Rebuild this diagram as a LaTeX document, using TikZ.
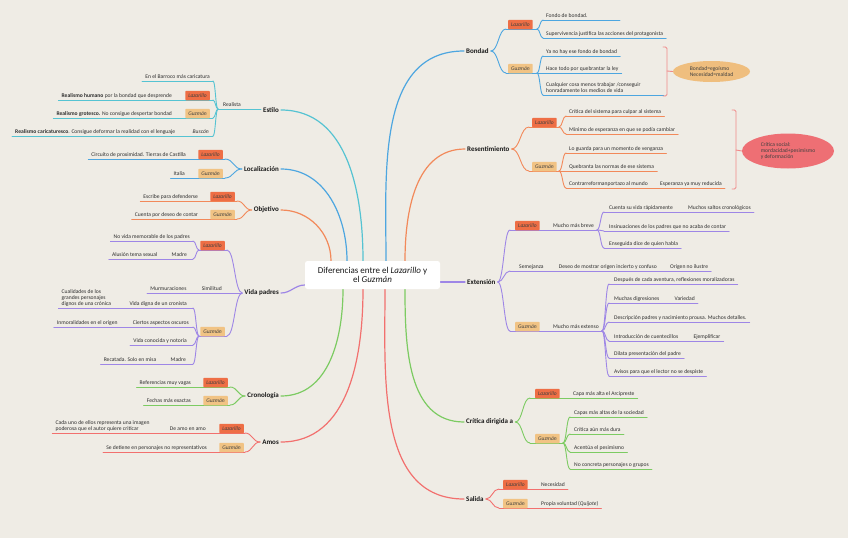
\documentclass[tikz,border=0pt]{standalone}
\usepackage{fontspec}
\setmainfont{Carlito}
\usetikzlibrary{calc,shapes.geometric}
\pgfdeclarelayer{paper}
\pgfdeclarelayer{lines}
\pgfsetlayers{paper,lines,main}
\definecolor{bgc}{HTML}{EFECE5}
\definecolor{cyanc}{HTML}{55C3D2}
\definecolor{bluec}{HTML}{4DA6E0}
\definecolor{orac}{HTML}{F2895A}
\definecolor{purc}{HTML}{9E86E6}
\definecolor{grec}{HTML}{7CCB62}
\definecolor{redc}{HTML}{F2706E}
\definecolor{lazc}{HTML}{EE6E45}
\definecolor{guzc}{HTML}{F1C384}
\definecolor{txtc}{HTML}{2E2E2E}
\definecolor{pinkc}{HTML}{F08A8A}
\definecolor{ellone}{HTML}{EFBE7E}
\definecolor{elltwo}{HTML}{EE6F74}
\tikzset{
  txt/.style={font=\fontsize{5.6}{6.2}\selectfont, inner sep=0pt, text=txtc},
  itx/.style={font=\fontsize{5.6}{6.2}\selectfont\itshape},
  topic/.style={font=\fontsize{7}{8}\selectfont\bfseries, inner sep=2pt, text=black!90},
  tagbox/.style={inner sep=0pt, minimum width=24.5pt, minimum height=9.5pt, rounded corners=0.8pt,
    font=\fontsize{5.5}{6}\selectfont\itshape, text=black!75},
  tagL/.style={tagbox, fill=lazc},
  tagG/.style={tagbox, fill=guzc},
  uline/.style={line width=0.9pt, line cap=round},
  mainc/.style={line width=1.2pt, line cap=round},
}
\newcommand\uL[3]{\begin{pgfonlayer}{lines}\draw[uline,#1] let \p1=(#2.base west), \p2=(#3) in (\x1-3pt,\y2) -- (\p2);\end{pgfonlayer}}
\newcommand\uR[3]{\begin{pgfonlayer}{lines}\draw[uline,#1] let \p1=(#2.base east), \p2=(#3) in (\p2) -- (\x1+3pt,\y2);\end{pgfonlayer}}
\newcommand\brc[3]{\begin{pgfonlayer}{lines}\draw[uline,#1] let \p1=(#2), \p2=(#3) in (\p1) .. controls (\x1/2+\x2/2,\y1) and (\x1/2+\x2/2,\y2) .. (\p2);\end{pgfonlayer}}
\newcommand\seg[3]{\begin{pgfonlayer}{lines}\draw[uline,#1] (#2) -- (#3);\end{pgfonlayer}}
\begin{document}
\begin{tikzpicture}[x=1pt,y=-1pt]
\begin{pgfonlayer}{paper}
\fill[bgc] (0,0) rectangle (848,538);
\end{pgfonlayer}
\useasboundingbox (0,0) rectangle (848,538);

% ---------- root and main topics
\node[fill=white, rounded corners=2.5pt, minimum width=135pt, minimum height=28pt, inner sep=2pt,
  align=center, font=\fontsize{9}{9.6}\selectfont, text=black!90] (root) at (372.5,275)
  {Diferencias entre el \textit{Lazarillo} y\\el \textit{Guzmán}};

\node[topic,anchor=east] (estilo) at (281,110) {Estilo};
\node[topic,anchor=east] (loc) at (281,169) {Localización};
\node[topic,anchor=east] (obj) at (281,210) {Objetivo};
\node[topic,anchor=east] (vida) at (281,293) {Vida padres};
\node[topic,anchor=east] (cro) at (281,396) {Cronología};
\node[topic,anchor=east] (amos) at (281,442) {Amos};
\node[topic,anchor=west] (bon) at (464,51) {Bondad};
\node[topic,anchor=west] (res) at (465,149) {Resentimiento};
\node[topic,anchor=west] (ext) at (465,282) {Extensión};
\node[topic,anchor=west] (cri) at (464,422) {Crítica dirigida a};
\node[topic,anchor=west] (sal) at (464,499) {Salida};

\begin{pgfonlayer}{lines}
\draw[mainc,cyanc] ([xshift=-9.5pt]root.north) to[out=90,in=0] (estilo.east);
\draw[mainc,bluec] ([xshift=-25.5pt]root.north) to[out=90,in=0] (loc.east);
\draw[mainc,orac] ([xshift=-41.5pt]root.north) to[out=90,in=0] (obj.east);
\draw[mainc,purc] ([yshift=-10pt]root.west) to[out=180,in=0] (vida.east);
\draw[mainc,grec] ([xshift=-29.5pt]root.south) to[out=-90,in=0] (cro.east);
\draw[mainc,redc] ([xshift=-9.5pt]root.south) to[out=-90,in=0] (amos.east);
\draw[mainc,bluec] ([xshift=13.5pt]root.north) to[out=90,in=180] (bon.west);
\draw[mainc,orac] ([xshift=32.5pt]root.north) to[out=90,in=180] (res.west);
\draw[mainc,purc] ([yshift=-7pt]root.east) to[out=0,in=180] (ext.west);
\draw[mainc,grec] ([xshift=32.5pt]root.south) to[out=-90,in=180] (cri.west);
\draw[mainc,redc] ([xshift=12.5pt]root.south) to[out=-90,in=180] (sal.west);
\end{pgfonlayer}

% ---------- Estilo
\coordinate (pRea) at (218,109);
\node[txt,anchor=base west] (realista) at (223,106.5) {Realista};
\seg{cyanc}{pRea}{estilo.west |- pRea}
\coordinate (eE1) at (213,81);
\coordinate (eE2) at (213,100);
\coordinate (eE3) at (213,118);
\coordinate (eE4) at (213,136);
\brc{cyanc}{pRea}{eE1}\brc{cyanc}{pRea}{eE2}\brc{cyanc}{pRea}{eE3}\brc{cyanc}{pRea}{eE4}
\node[txt,anchor=base east] (barroco) at ([xshift=-3pt,yshift=2.5pt]eE1) {En el Barroco más caricatura};
\uL{cyanc}{barroco}{eE1}
\node[tagL,anchor=south east] (tE2) at ([xshift=-3pt,yshift=-0.5pt]eE2) {Lazarillo};
\node[txt,anchor=base east] (humano) at ([xshift=-13pt,yshift=-1.75pt]tE2.west) {\textbf{Realismo humano} por la bondad que desprende};
\uL{cyanc}{humano}{eE2}
\node[tagG,anchor=south east] (tE3) at ([xshift=-3pt,yshift=-0.5pt]eE3) {Guzmán};
\node[txt,anchor=base east] (grotesco) at ([xshift=-13pt,yshift=-1.75pt]tE3.west) {\textbf{Realismo grotesco.} No consigue despertar bondad};
\uL{cyanc}{grotesco}{eE3}
\node[txt,itx,anchor=base east] (buscon) at ([xshift=-4pt,yshift=2.5pt]eE4) {Buscón};
\node[txt,anchor=base east] (caric) at ([xshift=-17pt]buscon.base west) {\textbf{Realismo caricaturesco}. Consigue deformar la realidad con el lenguaje};
\uL{cyanc}{caric}{eE4}

% ---------- Localizacion
\coordinate (eL1) at (225,159);
\coordinate (eL2) at (225,178);
\brc{bluec}{loc.west}{eL1}\brc{bluec}{loc.west}{eL2}
\node[tagL,anchor=south east] (tL1) at ([xshift=-2pt,yshift=-0.5pt]eL1) {Lazarillo};
\node[txt,anchor=base east] (circuito) at ([xshift=-12pt,yshift=-1.75pt]tL1.west) {Circuito de proximidad. Tierras de Castilla};
\uL{bluec}{circuito}{eL1}
\node[tagG,anchor=south east] (tL2) at ([xshift=-2pt,yshift=-0.5pt]eL2) {Guzmán};
\node[txt,anchor=base east] (italia) at ([xshift=-13pt,yshift=-1.75pt]tL2.west) {Italia};
\uL{bluec}{italia}{eL2}

% ---------- Objetivo
\coordinate (eO1) at (237,201);
\coordinate (eO2) at (237,219);
\brc{orac}{obj.west}{eO1}\brc{orac}{obj.west}{eO2}
\node[tagL,anchor=south east] (tO1) at ([xshift=-2pt,yshift=-0.5pt]eO1) {Lazarillo};
\node[txt,anchor=base east] (escribe) at ([xshift=-12pt,yshift=-1.75pt]tO1.west) {Escribe para defenderse};
\uL{orac}{escribe}{eO1}
\node[tagG,anchor=south east] (tO2) at ([xshift=-2pt,yshift=-0.5pt]eO2) {Guzmán};
\node[txt,anchor=base east] (cuentap) at ([xshift=-12pt,yshift=-1.75pt]tO2.west) {Cuenta por deseo de contar};
\uL{orac}{cuentap}{eO2}

% ---------- Vida padres
\coordinate (eV1) at (227,250);
\coordinate (eV2) at (227,293);
\coordinate (eV3) at (227,336);
\brc{purc}{vida.west}{eV1}\brc{purc}{vida.west}{eV2}\brc{purc}{vida.west}{eV3}
\node[tagL,anchor=south east] (tV1) at ([xshift=-2pt,yshift=-0.5pt]eV1) {Lazarillo};
\coordinate (pV1) at (199,250);
\seg{purc}{pV1}{eV1}
\coordinate (eV11) at (193,241);
\coordinate (eV12) at (193,259);
\brc{purc}{pV1}{eV11}\brc{purc}{pV1}{eV12}
\node[txt,anchor=base east] (novida) at ([xshift=-3pt,yshift=2.5pt]eV11) {No vida memorable de los padres};
\uL{purc}{novida}{eV11}
\node[txt,anchor=base east] (madreA) at ([xshift=-6pt,yshift=2.5pt]eV12) {Madre};
\node[txt,anchor=base east] (alusion) at ([xshift=-14pt]madreA.base west) {Alusión tema sexual};
\uL{purc}{alusion}{eV12}
\node[txt,anchor=base east] (simil) at ([xshift=-5pt,yshift=2.5pt]eV2) {Similitud};
\node[txt,anchor=base east] (murm) at ([xshift=-15pt]simil.base west) {Murmuraciones};
\uL{purc}{murm}{eV2}
\node[tagG,anchor=south east] (tV3) at ([xshift=-2pt,yshift=-0.5pt]eV3) {Guzmán};
\coordinate (pV3) at (199,336);
\seg{purc}{pV3}{eV3}
\coordinate (eV31) at (193,308);
\coordinate (eV32) at (193,327);
\coordinate (eV33) at (193,345);
\coordinate (eV34) at (193,364);
\brc{purc}{pV3}{eV31}\brc{purc}{pV3}{eV32}\brc{purc}{pV3}{eV33}\brc{purc}{pV3}{eV34}
\node[txt,anchor=base east] (vdigna) at ([xshift=-6pt,yshift=2.5pt]eV31) {Vida digna de un cronista};
\node[txt,anchor=base east] (cualid) at ([xshift=-18pt]vdigna.base west) {\begin{tabular}[b]{@{}l@{}}Cualidades de los\\grandes personajes\\dignos de una crónica\end{tabular}};
\uL{purc}{cualid}{eV31}
\node[txt,anchor=base east] (ciertos) at ([xshift=-4pt,yshift=2.5pt]eV32) {Ciertos aspectos oscuros};
\node[txt,anchor=base east] (inmoral) at ([xshift=-15pt]ciertos.base west) {Inmoralidades en el origen};
\uL{purc}{inmoral}{eV32}
\node[txt,anchor=base east] (conocida) at ([xshift=-6pt,yshift=2.5pt]eV33) {Vida conocida y notoria};
\uL{purc}{conocida}{eV33}
\node[txt,anchor=base east] (madreB) at ([xshift=-7pt,yshift=2.5pt]eV34) {Madre};
\node[txt,anchor=base east] (recatada) at ([xshift=-14pt]madreB.base west) {Recatada. Solo en misa};
\uL{purc}{recatada}{eV34}

% ---------- Cronologia
\coordinate (eC1) at (230,387);
\coordinate (eC2) at (230,405);
\brc{grec}{cro.west}{eC1}\brc{grec}{cro.west}{eC2}
\node[tagL,anchor=south east] (tC1) at ([xshift=-2pt,yshift=-0.5pt]eC1) {Lazarillo};
\node[txt,anchor=base east] (refer) at ([xshift=-12pt,yshift=-1.75pt]tC1.west) {Referencias muy vagas};
\uL{grec}{refer}{eC1}
\node[tagG,anchor=south east] (tC2) at ([xshift=-2pt,yshift=-0.5pt]eC2) {Guzmán};
\node[txt,anchor=base east] (fechas) at ([xshift=-12pt,yshift=-1.75pt]tC2.west) {Fechas más exactas};
\uL{grec}{fechas}{eC2}

% ---------- Amos
\coordinate (eA1) at (245,433);
\coordinate (eA2) at (245,452);
\brc{redc}{amos.west}{eA1}\brc{redc}{amos.west}{eA2}
\node[tagL,anchor=south east] (tA1) at ([xshift=-1pt,yshift=-0.5pt]eA1) {Lazarillo};
\node[txt,anchor=base east] (deamo) at ([xshift=-13pt,yshift=-1.75pt]tA1.west) {De amo en amo};
\node[txt,anchor=base east] (cadauno) at ([xshift=-20pt]deamo.base west) {\begin{tabular}[b]{@{}l@{}}Cada uno de ellos representa una imagen\\poderosa que el autor quiere criticar\end{tabular}};
\uL{redc}{cadauno}{eA1}
\node[tagG,anchor=south east] (tA2) at ([xshift=-1pt,yshift=-0.5pt]eA2) {Guzmán};
\node[txt,anchor=base east] (detiene) at ([xshift=-12pt,yshift=-1.75pt]tA2.west) {Se detiene en personajes no representativos};
\uL{redc}{detiene}{eA2}

% ---------- Bondad
\coordinate (eB1) at (506,29);
\coordinate (eB2) at (506,73);
\brc{bluec}{bon.east}{eB1}\brc{bluec}{bon.east}{eB2}
\node[tagL,anchor=south west] (tB1) at ([xshift=2pt,yshift=-0.5pt]eB1) {Lazarillo};
\coordinate (pB1) at (537,29);
\seg{bluec}{eB1}{pB1}
\coordinate (eB11) at (543,20);
\coordinate (eB12) at (543,38);
\brc{bluec}{pB1}{eB11}\brc{bluec}{pB1}{eB12}
\node[txt,anchor=base west] (fondo) at ([xshift=3pt,yshift=2.5pt]eB11) {Fondo de bondad.};
\coordinate (fB11) at (620,20);
\seg{bluec}{eB11}{fB11}
\node[txt,anchor=base west] (superv) at ([xshift=3pt,yshift=2.5pt]eB12) {Supervivencia justifica las acciones del protagonista};
\uR{bluec}{superv}{eB12}
\node[tagG,anchor=south west] (tB2) at ([xshift=2pt,yshift=-0.5pt]eB2) {Guzmán};
\coordinate (pB2) at (537,73);
\seg{bluec}{eB2}{pB2}
\coordinate (eB21) at (543,56);
\coordinate (eB22) at (543,73);
\coordinate (eB23) at (543,95);
\brc{bluec}{pB2}{eB21}\brc{bluec}{pB2}{eB22}\brc{bluec}{pB2}{eB23}
\node[txt,anchor=base west] (yano) at ([xshift=3pt,yshift=2.5pt]eB21) {Ya no hay ese fondo de bondad};
\uR{bluec}{yano}{eB21}
\node[txt,anchor=base west] (hace) at ([xshift=3pt,yshift=2.5pt]eB22) {Hace todo por quebrantar la ley};
\uR{bluec}{hace}{eB22}
\node[txt,anchor=base west] (cualq) at ([xshift=3pt,yshift=2.5pt]eB23) {\begin{tabular}[b]{@{}l@{}}Cualquier cosa menos trabajar /conseguir\\honradamente los medios de vida\end{tabular}};
\coordinate (fB23) at (664,95);
\seg{bluec}{eB23}{fB23}
% summary bracket
\coordinate (bkA) at (667,71);
\node[ellipse, txt, fill=ellone, minimum width=77pt, minimum height=21pt, align=left, text=black!75] (ellA) at (711.5,71.5) {Bondad=egoísmo\\Necesidad=maldad};
\begin{pgfonlayer}{lines}
\draw[uline,pinkc,rounded corners=1.5pt] (663,47) -| (667,96) -- (663,96);
\draw[uline,pinkc] (bkA) -- (ellA.west);
\end{pgfonlayer}

% ---------- Resentimiento
\coordinate (eR1) at (529,127);
\coordinate (eR2) at (529,171);
\brc{orac}{res.east}{eR1}\brc{orac}{res.east}{eR2}
\node[tagL,anchor=south west] (tR1) at ([xshift=3pt,yshift=-0.5pt]eR1) {Lazarillo};
\coordinate (pR1) at (559,127);
\seg{orac}{eR1}{pR1}
\coordinate (eR11) at (566,116);
\coordinate (eR12) at (566,134);
\brc{orac}{pR1}{eR11}\brc{orac}{pR1}{eR12}
\node[txt,anchor=base west] (critsis) at ([xshift=3pt,yshift=2.5pt]eR11) {Crítica del sistema para culpar al sistema};
\uR{orac}{critsis}{eR11}
\node[txt,anchor=base west] (minimo) at ([xshift=3pt,yshift=2.5pt]eR12) {Mínimo de esperanza en que se podía cambiar};
\uR{orac}{minimo}{eR12}
\node[tagG,anchor=south west] (tR2) at ([xshift=3pt,yshift=-0.5pt]eR2) {Guzmán};
\coordinate (pR2) at (559,171);
\seg{orac}{eR2}{pR2}
\coordinate (eR21) at (566,153);
\coordinate (eR22) at (566,171);
\coordinate (eR23) at (566,188);
\brc{orac}{pR2}{eR21}\brc{orac}{pR2}{eR22}\brc{orac}{pR2}{eR23}
\node[txt,anchor=base west] (guarda) at ([xshift=3pt,yshift=2.5pt]eR21) {Lo guarda para un momento de venganza};
\uR{orac}{guarda}{eR21}
\node[txt,anchor=base west] (quebr) at ([xshift=3pt,yshift=2.5pt]eR22) {Quebranta las normas de ese sistema};
\uR{orac}{quebr}{eR22}
\node[txt,anchor=base west] (contra) at ([xshift=3pt,yshift=2.5pt]eR23) {Contrarreformanportazo al mundo};
\node[txt,anchor=base west] (espera) at ([xshift=12pt]contra.base east) {Esperanza ya muy reducida};
\uR{orac}{espera}{eR23}
\coordinate (bkB) at (736,150);
\node[ellipse, txt, fill=elltwo, minimum width=92pt, minimum height=35pt, align=left, text=black!75] (ellB) at (788,151) {Crítica social:\\mordacidad+pesimismo\\y deformación};
\begin{pgfonlayer}{lines}
\draw[uline,pinkc,rounded corners=1.5pt] (732,110) -| (736,189) -- (732,189);
\draw[uline,pinkc] (bkB) -- (ellB.west);
\end{pgfonlayer}

% ---------- Extension
\coordinate (eX1) at (510,230);
\coordinate (eX2) at (510,271);
\coordinate (eX3) at (510,331);
\brc{purc}{ext.east}{eX1}\brc{purc}{ext.east}{eX2}\brc{purc}{ext.east}{eX3}
\node[tagL,anchor=south west] (tX1) at ([xshift=5pt,yshift=-0.5pt]eX1) {Lazarillo};
\node[txt,anchor=base west] (breve) at ([xshift=13pt,yshift=-1.75pt]tX1.east) {Mucho más breve};
\uR{purc}{breve}{eX1}
\coordinate (pX1) at ([xshift=3pt,yshift=-2.5pt]breve.base east);
\coordinate (eX11) at (604,212);
\coordinate (eX12) at (604,231);
\coordinate (eX13) at (604,248);
\brc{purc}{pX1}{eX11}\brc{purc}{pX1}{eX12}\brc{purc}{pX1}{eX13}
\node[txt,anchor=base west] (cuentasu) at ([xshift=5pt,yshift=2.5pt]eX11) {Cuenta su vida rápidamente};
\node[txt,anchor=base west] (saltos) at ([xshift=15pt]cuentasu.base east) {Muchos saltos cronológicos};
\uR{purc}{saltos}{eX11}
\node[txt,anchor=base west] (insin) at ([xshift=5pt,yshift=2.5pt]eX12) {Insinuaciones de los padres que no acaba de contar};
\uR{purc}{insin}{eX12}
\node[txt,anchor=base west] (ensegu) at ([xshift=5pt,yshift=2.5pt]eX13) {Enseguida dice de quien habla};
\uR{purc}{ensegu}{eX13}
\node[txt,anchor=base west] (semej) at ([xshift=9pt,yshift=2.5pt]eX2) {Semejanza};
\node[txt,anchor=base west] (deseo) at ([xshift=15pt]semej.base east) {Deseo de mostrar origen incierto y confuso};
\node[txt,anchor=base west] (origen) at ([xshift=13pt]deseo.base east) {Origen no ilustre};
\uR{purc}{origen}{eX2}
\node[tagG,anchor=south west] (tX3) at ([xshift=5pt,yshift=-0.5pt]eX3) {Guzmán};
\node[txt,anchor=base west] (extenso) at ([xshift=13pt,yshift=-1.75pt]tX3.east) {Mucho más extenso};
\uR{purc}{extenso}{eX3}
\coordinate (pX3) at ([xshift=3pt,yshift=-2.5pt]extenso.base east);
\coordinate (eX31) at (609,284);
\coordinate (eX32) at (609,303);
\coordinate (eX33) at (609,322);
\coordinate (eX34) at (609,341);
\coordinate (eX35) at (609,358);
\coordinate (eX36) at (609,376);
\brc{purc}{pX3}{eX31}\brc{purc}{pX3}{eX32}\brc{purc}{pX3}{eX33}
\brc{purc}{pX3}{eX34}\brc{purc}{pX3}{eX35}\brc{purc}{pX3}{eX36}
\node[txt,anchor=base west] (despues) at ([xshift=5pt,yshift=2.5pt]eX31) {Después de cada aventura, reflexiones moralizadoras};
\uR{purc}{despues}{eX31}
\node[txt,anchor=base west] (digres) at ([xshift=5pt,yshift=2.5pt]eX32) {Muchas digresiones};
\node[txt,anchor=base west] (varied) at ([xshift=15pt]digres.base east) {Variedad};
\uR{purc}{varied}{eX32}
\node[txt,anchor=base west] (descrip) at ([xshift=5pt,yshift=2.5pt]eX33) {Descripción padres y nacimiento prousa. Muchos detalles.};
\uR{purc}{descrip}{eX33}
\node[txt,anchor=base west] (introd) at ([xshift=5pt,yshift=2.5pt]eX34) {Introducción de cuentecillos};
\node[txt,anchor=base west] (ejempl) at ([xshift=15pt]introd.base east) {Ejemplificar};
\uR{purc}{ejempl}{eX34}
\node[txt,anchor=base west] (dilata) at ([xshift=5pt,yshift=2.5pt]eX35) {Dilata presentación del padre};
\uR{purc}{dilata}{eX35}
\node[txt,anchor=base west] (avisos) at ([xshift=5pt,yshift=2.5pt]eX36) {Avisos para que el lector no se despiste};
\uR{purc}{avisos}{eX36}

% ---------- Critica dirigida a
\coordinate (eK1) at (530,398);
\coordinate (eK2) at (530,443);
\brc{grec}{cri.east}{eK1}\brc{grec}{cri.east}{eK2}
\node[tagL,anchor=south west] (tK1) at ([xshift=5pt,yshift=-0.5pt]eK1) {Lazarillo};
\node[txt,anchor=base west] (arcip) at ([xshift=13pt,yshift=-1.75pt]tK1.east) {Capa más alta el Arcipreste};
\uR{grec}{arcip}{eK1}
\node[tagG,anchor=south west] (tK2) at ([xshift=5pt,yshift=-0.5pt]eK2) {Guzmán};
\coordinate (pK2) at (563,443);
\seg{grec}{eK2}{pK2}
\coordinate (eK21) at (570,417);
\coordinate (eK22) at (570,434);
\coordinate (eK23) at (570,452);
\coordinate (eK24) at (570,469);
\brc{grec}{pK2}{eK21}\brc{grec}{pK2}{eK22}\brc{grec}{pK2}{eK23}\brc{grec}{pK2}{eK24}
\node[txt,anchor=base west] (capas) at ([xshift=4pt,yshift=2.5pt]eK21) {Capas más altas de la sociedad};
\uR{grec}{capas}{eK21}
\node[txt,anchor=base west] (dura) at ([xshift=4pt,yshift=2.5pt]eK22) {Crítica aún más dura};
\uR{grec}{dura}{eK22}
\node[txt,anchor=base west] (acentua) at ([xshift=4pt,yshift=2.5pt]eK23) {Acentúa el pesimismo};
\uR{grec}{acentua}{eK23}
\node[txt,anchor=base west] (noconc) at ([xshift=4pt,yshift=2.5pt]eK24) {No concreta personajes o grupos};
\uR{grec}{noconc}{eK24}

% ---------- Salida
\coordinate (eS1) at (499,489);
\coordinate (eS2) at (499,508);
\brc{redc}{sal.east}{eS1}\brc{redc}{sal.east}{eS2}
\node[tagL,anchor=south west] (tS1) at ([xshift=4pt,yshift=-0.5pt]eS1) {Lazarillo};
\node[txt,anchor=base west] (neces) at ([xshift=13pt,yshift=-1.75pt]tS1.east) {Necesidad};
\uR{redc}{neces}{eS1}
\node[tagG,anchor=south west] (tS2) at ([xshift=4pt,yshift=-0.5pt]eS2) {Guzmán};
\node[txt,anchor=base west] (propia) at ([xshift=13pt,yshift=-1.75pt]tS2.east) {Propia voluntad (\textit{Quijote})};
\uR{redc}{propia}{eS2}
\end{tikzpicture}
\end{document}
